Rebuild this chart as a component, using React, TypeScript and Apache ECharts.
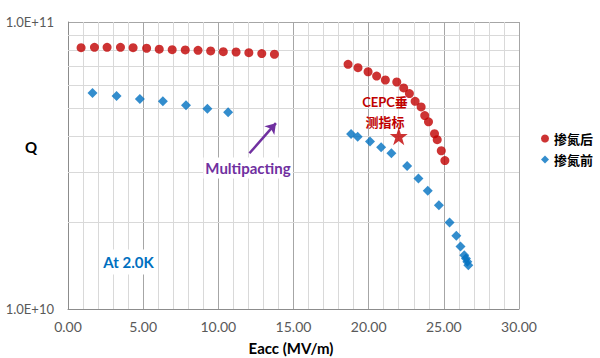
import React, { useEffect, useRef } from "react";
import * as echarts from "echarts";

// 掺氮后 (after N-doping), Eacc in MV/m, Q in units of 1e10
const redX = [0.87, 1.76, 2.6, 3.49, 4.33, 5.23, 6.07, 6.93, 7.8, 8.65, 9.49, 10.33, 11.18, 12.03, 12.89, 13.73,
  18.63, 19.29, 19.96, 20.53, 21.11, 21.87, 22.33, 22.71, 23.09, 23.49, 23.73, 23.98, 24.38, 24.56, 24.83, 25.07];
const redQ = [8.14, 8.16, 8.16, 8.16, 8.14, 8.1, 8.04, 8.01, 7.99, 7.97, 7.93, 7.88, 7.86, 7.82, 7.76, 7.72,
  7.12, 6.93, 6.71, 6.48, 6.28, 6.18, 5.89, 5.63, 5.29, 5.06, 4.72, 4.49, 4.08, 3.89, 3.56, 3.29];

// 掺氮前 (before N-doping)
const blueX = [1.63, 3.23, 4.78, 6.31, 7.85, 9.27, 10.65,
  18.83, 19.27, 20.09, 20.83, 21.51, 22.56, 23.31, 23.93, 24.67, 25.38, 25.83, 26.11, 26.36, 26.47, 26.56, 26.63];
const blueQ = [5.66, 5.52, 5.39, 5.29, 5.13, 4.99, 4.85,
  4.07, 3.98, 3.83, 3.66, 3.49, 3.15, 2.85, 2.58, 2.3, 2.0, 1.8, 1.65, 1.54, 1.5, 1.46, 1.42];

// CEPC target
const targetPoint = [22, 4.0];
// Multipacting arrow (from, to)
const arrowFrom = [12.07, 3.49];
const arrowTo = [13.83, 4.44];
// minor log gridlines
const minorQ = [2, 3, 4, 5, 6, 7, 8, 9];
const seriesNames = ["掺氮后", "掺氮前"];

const SCALE = 1e10;
const FONT = "Lato, 'Noto Sans CJK SC', sans-serif";
const STAR = "path://M50,0 L61.2,34.5 L97.6,34.5 L68.2,55.9 L79.4,90.5 L50,69.1 L20.6,90.5 L31.8,55.9 L2.4,34.5 L38.8,34.5 Z";

export default function App() {
  const ref = useRef<HTMLDivElement>(null);
  useEffect(() => {
    if (!ref.current) return;
    const chart = echarts.init(ref.current, null, { renderer: "svg" });
    const option = {
      animation: false,
      backgroundColor: "#ffffff",
      grid: { left: 68, top: 22, right: 81, bottom: 49, containLabel: false },
      legend: {
        data: seriesNames.map((n, i) => ({ name: n, icon: i === 0 ? "circle" : "diamond" })),
        orient: "vertical",
        left: 536,
        top: 127,
        itemWidth: 8,
        itemHeight: 8,
        itemGap: 8,
        textStyle: { fontSize: 13, fontWeight: "bold", color: "#000", fontFamily: FONT },
      },
      xAxis: {
        type: "value",
        min: 0,
        max: 30,
        interval: 5,
        axisLine: { show: true, lineStyle: { color: "#8c8c8c" } },
        axisTick: { show: false },
        axisLabel: {
          formatter: (v: number) => v.toFixed(2),
          color: "#595959",
          fontSize: 14,
          fontFamily: FONT,
          margin: 10,
        },
        splitLine: { show: true, lineStyle: { color: "#a6a6a6", width: 1 } },
        minorTick: { show: false, splitNumber: 5 },
        minorSplitLine: { show: true, lineStyle: { color: "#d9d9d9", width: 1 } },
      },
      yAxis: {
        type: "log",
        logBase: 10,
        min: 1e10,
        max: 1e11,
        axisLine: { show: true, lineStyle: { color: "#8c8c8c" } },
        axisTick: { show: false },
        axisLabel: {
          formatter: (v: number) => Number(v).toExponential(1).toUpperCase(),
          color: "#595959",
          fontSize: 13,
          fontFamily: FONT,
          margin: 14,
        },
        splitLine: { show: true, lineStyle: { color: "#a6a6a6", width: 1 } },
      },
      series: [
        {
          type: "scatter",
          name: "grid",
          data: [],
          z: 1,
          silent: true,
          markLine: {
            z: 1,
            silent: true,
            symbol: "none",
            label: { show: false },
            lineStyle: { color: "#d9d9d9", type: "solid", width: 1 },
            data: minorQ.map((q) => ({ yAxis: q * SCALE })),
          },
        },
        {
          type: "scatter",
          name: seriesNames[0],
          symbol: "circle",
          symbolSize: 9,
          itemStyle: { color: "#C00000" },
          data: redX.map((x, i) => [x, redQ[i] * SCALE]),
          z: 4,
        },
        {
          type: "scatter",
          name: seriesNames[1],
          symbol: "diamond",
          symbolSize: 10,
          itemStyle: { color: "#0070C0" },
          data: blueX.map((x, i) => [x, blueQ[i] * SCALE]),
          z: 4,
        },
        {
          type: "scatter",
          name: "target",
          symbol: STAR,
          symbolSize: 18,
          itemStyle: { color: "#C00000" },
          data: [[targetPoint[0], targetPoint[1] * SCALE]],
          z: 4,
          markLine: {
            z: 5,
            silent: true,
            symbol: ["none", "arrow"],
            symbolSize: 10,
            label: { show: false },
            lineStyle: { color: "#7030A0", type: "solid", width: 2.5 },
            data: [[
              { coord: [arrowFrom[0], arrowFrom[1] * SCALE] },
              { coord: [arrowTo[0], arrowTo[1] * SCALE] },
            ]],
          },
        },
      ],
      graphic: [
        {
          type: "text", x: 31, y: 147, z: 2,
          style: { text: "Q", fill: "#000", fontSize: 15, fontWeight: "bold", fontFamily: FONT, align: "center", verticalAlign: "middle" },
        },
        {
          type: "text", x: 291, y: 348, z: 2,
          style: { text: "Eacc (MV/m)", fill: "#000", fontSize: 15, fontWeight: "bold", fontFamily: FONT, align: "center", verticalAlign: "middle" },
        },
        {
          type: "text", x: 248, y: 168, z: 2,
          style: { text: "Multipacting", fill: "#7030A0", fontSize: 15, fontWeight: "bold", fontFamily: FONT, align: "center", verticalAlign: "middle", backgroundColor: "#fff", padding: [3, 2] },
        },
        {
          type: "text", x: 128.5, y: 262, z: 2,
          style: { text: "At 2.0K", fill: "#0070C0", fontSize: 15, fontWeight: "bold", fontFamily: FONT, align: "center", verticalAlign: "middle", backgroundColor: "#fff", padding: [5, 4] },
        },
        {
          type: "text", x: 385, y: 101.5, z: 2,
          style: { text: "CEPC垂", fill: "#C00000", fontSize: 13, fontWeight: "bold", fontFamily: FONT, align: "center", verticalAlign: "middle" },
        },
        {
          type: "text", x: 385, y: 121.5, z: 2,
          style: { text: "测指标", fill: "#C00000", fontSize: 13, fontWeight: "bold", fontFamily: FONT, align: "center", verticalAlign: "middle" },
        },
      ],
    };
    chart.setOption(option as any);
    return () => chart.dispose();
  }, []);
  return <div ref={ref} style={{ position: "fixed", left: 0, top: 0, width: 600, height: 358 }} />;
}
